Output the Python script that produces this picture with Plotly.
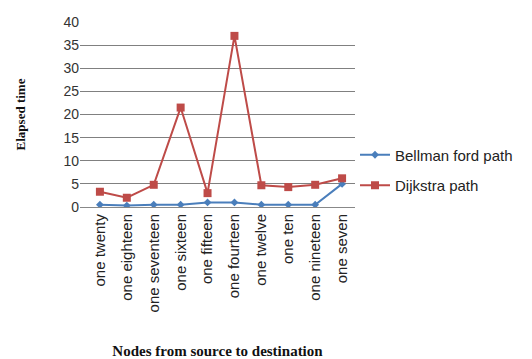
import plotly.graph_objects as go

categories = ["one twenty", "one eighteen", "one seventeen", "one sixteen", "one fifteen",
              "one fourteen", "one twelve", "one ten", "one nineteen", "one seven"]
bellman = [0.5, 0.3, 0.5, 0.5, 1.0, 1.0, 0.5, 0.5, 0.5, 5.0]
dijkstra = [3.3, 2.0, 4.8, 21.5, 3.0, 37.0, 4.7, 4.3, 4.8, 6.2]
y_ticks = [0, 5, 10, 15, 20, 25, 30, 35, 40]

xs = list(range(len(categories)))

fig = go.Figure()
fig.add_trace(go.Scatter(x=xs, y=bellman, name="Bellman ford path", mode="lines+markers",
                         legendgroup="a",
                         line=dict(color="#4A7EBB", width=2),
                         marker=dict(symbol="diamond", size=6, color="#4A7EBB")))
fig.add_trace(go.Scatter(x=xs, y=dijkstra, name="Dijkstra path", mode="lines+markers",
                         legendgroup="b",
                         line=dict(color="#BE4B48", width=2),
                         marker=dict(symbol="square", size=8, color="#BE4B48")))

fig.update_layout(
    width=532, height=359,
    margin=dict(l=80, r=177, t=22, b=152),
    paper_bgcolor="white", plot_bgcolor="white",
    font=dict(family="Liberation Sans", size=13, color="#333"),
    showlegend=True,
    legend=dict(x=1.0, y=0.2, xanchor="left", yanchor="middle",
                font=dict(size=15, family="Liberation Sans", color="#222"),
                traceorder="grouped", tracegroupgap=8, itemwidth=30),
    xaxis=dict(range=[-0.74, 9.48], tickmode="array", tickvals=xs, ticktext=categories,
               tickangle=-90, showgrid=False, zeroline=False, showline=True, automargin=False,
               linecolor="#888", ticks="", tickfont=dict(size=15, family="Liberation Sans", color="#222"),
               title=dict(text="<b>Nodes from source to destination</b>",
                          font=dict(family="Liberation Serif", size=15, color="#111"), standoff=42)),
    yaxis=dict(range=[0, 40], tickvals=y_ticks, showgrid=True, gridcolor="#808080", gridwidth=1,
               zeroline=False, showline=False, ticks="", automargin=False,
               tickfont=dict(size=14, family="Liberation Sans", color="#333"),
               title=dict(text="<b>Elapsed time</b>",
                          font=dict(family="Liberation Serif", size=13, color="#111"), standoff=34)),
)

fig.write_html("out.html")
